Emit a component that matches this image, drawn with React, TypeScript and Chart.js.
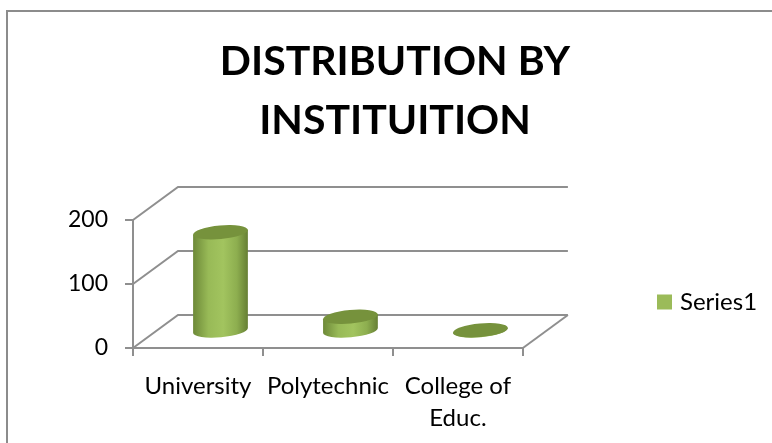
import React, { useEffect, useRef } from "react";
import { Chart, registerables } from "chart.js";

Chart.register(...registerables);

const titleLines = ["DISTRIBUTION BY", "INSTITUITION"];
const categories = ["University", "Polytechnic", ["College of", "Educ."]];
const seriesName = "Series1";
const seriesValues = [155, 23, 2];
const valueTicks = [0, 100, 200];

const FONT = "Lato, Carlito, 'Open Sans', sans-serif";
const AXIS_GREY = "#8f8f8f";
const DEPTH_X = 45;
const DEPTH_Y = -33;

// Oblique walls and floor behind the plot, projected from the value scale.
const wallsPlugin = {
  id: "walls",
  beforeDatasetsDraw(chart: any) {
    const { ctx, chartArea, scales } = chart;
    const { left, right } = chartArea;
    ctx.save();
    ctx.strokeStyle = AXIS_GREY;
    ctx.lineWidth = 2;
    valueTicks.forEach((v) => {
      const y = scales.y.getPixelForValue(v);
      ctx.beginPath();
      ctx.moveTo(left, y);
      ctx.lineTo(left + DEPTH_X, y + DEPTH_Y);
      ctx.lineTo(right + DEPTH_X, y + DEPTH_Y);
      ctx.stroke();
    });
    const base = scales.y.getPixelForValue(0);
    ctx.beginPath();
    ctx.moveTo(right, base);
    ctx.lineTo(right + DEPTH_X, base + DEPTH_Y);
    ctx.stroke();
    ctx.restore();
  },
};

// Each bar element is painted as a tilted cylinder standing mid-way into the floor.
const cylinderPlugin = {
  id: "cylinders",
  afterDatasetsDraw(chart: any) {
    const { ctx } = chart;
    const tilt = -0.09;
    const ry = 6.8;
    chart.getDatasetMeta(0).data.forEach((bar: any) => {
      const rx = bar.width / 2;
      const cx = bar.x + DEPTH_X / 2;
      const top = bar.y + DEPTH_Y / 2;
      const bottom = bar.base + DEPTH_Y / 2;
      const dx = rx * Math.cos(tilt);
      const dy = rx * Math.sin(tilt);
      const body = ctx.createLinearGradient(cx - dx, 0, cx + dx, 0);
      body.addColorStop(0, "#6d8938");
      body.addColorStop(0.28, "#98ba57");
      body.addColorStop(0.55, "#a2c45f");
      body.addColorStop(0.8, "#8dae4f");
      body.addColorStop(1, "#667f34");
      ctx.save();
      ctx.fillStyle = body;
      ctx.beginPath();
      ctx.moveTo(cx + dx, top + dy);
      ctx.lineTo(cx - dx, top - dy);
      ctx.lineTo(cx - dx, bottom - dy);
      ctx.ellipse(cx, bottom, rx, ry, tilt, Math.PI, 0, true);
      ctx.closePath();
      ctx.fill();
      ctx.fillStyle = "#76923c";
      ctx.beginPath();
      ctx.ellipse(cx, top, rx, ry, tilt, 0, Math.PI * 2);
      ctx.fill();
      ctx.restore();
    });
  },
};

// Chart frame, plus placement of the title and legend boxes.
const framePlugin = {
  id: "frame",
  afterLayout(chart: any) {
    const { titleBlock, legend } = chart;
    titleBlock.left = 18;
    titleBlock.right = 772;
    legend.left = 651;
    legend.right = 772;
    legend.top = 285;
    legend.bottom = 319;
  },
  beforeDraw(chart: any) {
    const { ctx, width, height } = chart;
    ctx.save();
    ctx.fillStyle = "#ffffff";
    ctx.fillRect(0, 0, width, height);
    ctx.fillStyle = "#8c8c8c";
    ctx.fillRect(6, 10, 2, height - 10);
    ctx.fillRect(6, 10, width - 6, 2);
    ctx.restore();
  },
};

export default function App() {
  const canvasRef = useRef<HTMLCanvasElement>(null);

  useEffect(() => {
    const chart = new Chart(canvasRef.current as HTMLCanvasElement, {
      type: "bar",
      data: {
        labels: categories as any,
        datasets: [
          {
            label: seriesName,
            data: seriesValues,
            backgroundColor: "transparent",
            barPercentage: 0.423,
            categoryPercentage: 1,
          },
        ],
      },
      plugins: [framePlugin, wallsPlugin, cylinderPlugin],
      options: {
        responsive: false,
        animation: false,
        // The legend takes its own share of the right side; keep the plot's right edge fixed.
        layout: { padding: { left: 0, right: 133, top: 0, bottom: 0 } },
        plugins: {
          tooltip: { enabled: false },
          title: {
            display: true,
            text: titleLines,
            color: "#000000",
            font: { family: FONT, size: 41, weight: "bold", lineHeight: 59 / 41 },
            padding: { top: 32, bottom: 70 },
          },
          legend: {
            display: true,
            position: "right",
            labels: {
              boxWidth: 7,
              boxHeight: 7,
              padding: 10,
              color: "#000000",
              font: { family: FONT, size: 24 },
              generateLabels: () => [
                {
                  text: seriesName,
                  fillStyle: "#9bbb59",
                  strokeStyle: "#9bbb59",
                  lineWidth: 8,
                  datasetIndex: 0,
                },
              ],
            },
          },
        },
        scales: {
          x: {
            afterFit(scale: any) {
              scale.height = 95;
            },
            border: { color: AXIS_GREY, width: 2 },
            grid: { drawOnChartArea: false, color: AXIS_GREY, lineWidth: 2, tickLength: 8 },
            ticks: {
              color: "#000000",
              font: { family: FONT, size: 24, lineHeight: 32 / 24 },
              maxRotation: 0,
              autoSkip: false,
              padding: 14,
            },
          },
          y: {
            min: 0,
            max: 200,
            afterFit(scale: any) {
              scale.width = 133;
            },
            afterBuildTicks(scale: any) {
              scale.ticks = valueTicks.map((value) => ({ value }));
            },
            border: { color: AXIS_GREY, width: 2 },
            grid: { drawOnChartArea: false, color: AXIS_GREY, lineWidth: 2, tickLength: 8 },
            ticks: {
              color: "#000000",
              font: { family: FONT, size: 23 },
              padding: 17,
            },
          },
        },
      } as any,
    });
    return () => chart.destroy();
  }, []);

  return (
    <canvas
      ref={canvasRef}
      width={772}
      height={443}
      style={{ position: "fixed", top: 0, left: 0, display: "block" }}
    />
  );
}
